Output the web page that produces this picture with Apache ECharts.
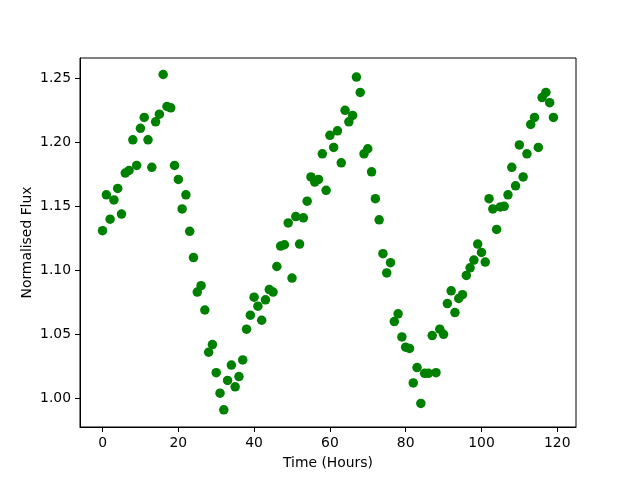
<!DOCTYPE html>
<html>
<head>
<meta charset="utf-8">
<script src="https://cdn.jsdelivr.net/npm/echarts@6/dist/echarts.min.js"></script>
<style>
  html, body { margin: 0; padding: 0; background: #fff; }
  #chart { width: 640px; height: 480px; }
</style>
</head>
<body>
<div id="chart"></div>
<script>
// hours 0..119, one reading per hour
var hours = [];
for (var h = 0; h < 120; h++) hours.push(h);

var flux = [
  1.131, 1.159, 1.140, 1.155, 1.164, 1.144, 1.176, 1.178, 1.202, 1.182,
  1.211, 1.2195, 1.202, 1.1805, 1.216, 1.222, 1.253, 1.228, 1.227, 1.182,
  1.171, 1.148, 1.159, 1.1305, 1.110, 1.083, 1.088, 1.069, 1.036, 1.042,
  1.020, 1.004, 0.991, 1.014, 1.026, 1.009, 1.017, 1.030, 1.054, 1.065,
  1.079, 1.072, 1.061, 1.077, 1.085, 1.083, 1.103, 1.119, 1.120, 1.137,
  1.094, 1.142, 1.1205, 1.141, 1.154, 1.173, 1.169, 1.171, 1.191, 1.1625,
  1.2055, 1.196, 1.209, 1.184, 1.225, 1.216, 1.221, 1.251, 1.239, 1.191,
  1.195, 1.177, 1.156, 1.1395, 1.113, 1.098, 1.106, 1.060, 1.066, 1.048,
  1.040, 1.039, 1.012, 1.024, 0.996, 1.0195, 1.0195, 1.049, 1.020, 1.054,
  1.050, 1.074, 1.084, 1.067, 1.078, 1.081, 1.096, 1.102, 1.108, 1.1205,
  1.114, 1.1065, 1.156, 1.148, 1.132, 1.1495, 1.150, 1.159, 1.1805, 1.166,
  1.198, 1.173, 1.191, 1.214, 1.2195, 1.196, 1.235, 1.239, 1.231, 1.2195
];

var xTicks = [0, 20, 40, 60, 80, 100, 120];
var yTicks = [1.00, 1.05, 1.10, 1.15, 1.20, 1.25];

var points = [];
for (var i = 0; i < hours.length; i++) {
  points.push([hours[i], flux[i]]);
}

var font = 'DejaVu Sans';
var chart = echarts.init(document.getElementById('chart'), null, { renderer: 'canvas' });

var option = {
  animation: false,
  backgroundColor: '#fff',
  grid: {
    left: 80, right: 64, top: 58, bottom: 53,
    show: true, borderColor: '#000', borderWidth: 1, backgroundColor: 'transparent'
  },
  xAxis: {
    type: 'value',
    min: -5.95,
    max: 124.95,
    name: 'Time (Hours)',
    nameLocation: 'middle',
    nameGap: 29,
    nameMoveOverlap: false,
    nameTextStyle: { fontFamily: font, fontSize: 13.9, color: '#000' },
    axisLine: { show: true, onZero: false, lineStyle: { color: '#000', width: 1 } },
    axisTick: { show: true, inside: false, length: 5, lineStyle: { color: '#000' }, customValues: xTicks },
    axisLabel: { fontFamily: font, fontSize: 13.9, color: '#000', margin: 9, customValues: xTicks },
    splitLine: { show: false }
  },
  yAxis: {
    type: 'value',
    min: 0.9776,
    max: 1.2659,
    name: 'Normalised Flux',
    nameLocation: 'middle',
    nameGap: 46,
    nameMoveOverlap: false,
    nameTextStyle: { fontFamily: font, fontSize: 13.9, color: '#000' },
    axisLine: { show: true, onZero: false, lineStyle: { color: '#000', width: 1 } },
    axisTick: { show: true, inside: false, length: 5, lineStyle: { color: '#000' }, customValues: yTicks },
    axisLabel: {
      fontFamily: font, fontSize: 13.9, color: '#000', margin: 9, customValues: yTicks,
      formatter: function (v) { return v.toFixed(2); }
    },
    splitLine: { show: false }
  },
  series: [
    {
      type: 'scatter',
      data: points,
      symbol: 'circle',
      symbolSize: 9.5,
      itemStyle: { color: '#008000', opacity: 1 }
    }
  ]
};

chart.setOption(option);
</script>
</body>
</html>
